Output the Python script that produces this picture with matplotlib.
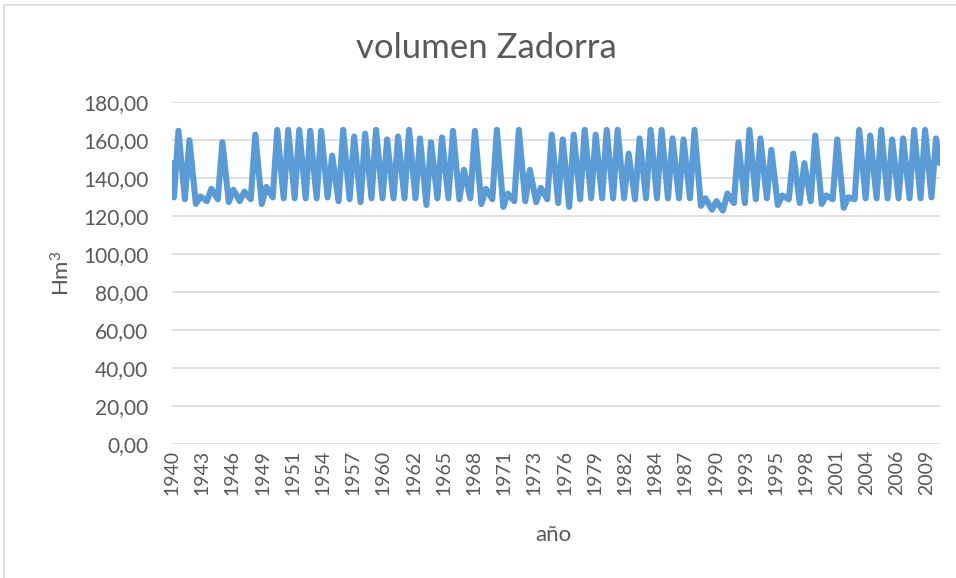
import matplotlib
matplotlib.use("Agg")
import matplotlib.pyplot as plt
import pandas as pd
from matplotlib.patches import Rectangle

plt.rcParams['font.family'] = ['Lato', 'DejaVu Sans']
plt.rcParams['mathtext.default'] = 'regular'

# hydrological years (Oct -> Sep), reservoir volume in Hm3
hydro_years = list(range(1941, 2011))

# autumn minimum (around December, start of each hydrological year)
trough_vol = [
    130, 129, 126.5, 128, 129, 127.5, 128, 129, 126.5, 130,
    129.5, 129.5, 129.5, 129.5, 130, 128, 129, 127.5, 129.5, 129.5,
    129.5, 129.5, 129.5, 126, 129.5, 129.5, 129, 129.5, 126.5, 129,
    125, 128, 128, 127.5, 129, 127, 125, 129, 129.5, 129.5,
    129.5, 129.5, 129, 129.5, 129.5, 129.5, 129.5, 129.5, 125.5, 123.5,
    123, 127, 127, 129, 129.5, 126, 129, 127, 128, 126.5,
    129, 124.5, 129, 129.5, 129.5, 129.5, 129.5, 129.5, 129.5, 130,
]

# spring maximum (around May)
peak_vol = [
    165, 160, 130.5, 134.5, 159, 134, 133, 163, 135.5, 165.5,
    165.5, 165.5, 165, 165, 152, 165.5, 162, 163.5, 165.5, 160.5,
    162, 165.5, 161, 159, 161.5, 165, 144.5, 165, 134.5, 165.5,
    132, 165.5, 144.5, 135, 163, 160.5, 163, 165.5, 163, 165.5,
    165.5, 153, 161, 165.5, 165.5, 161, 160.5, 165.5, 129.5, 128,
    132, 159, 165.5, 161, 155, 131, 153, 148, 162.5, 131,
    160.5, 130, 165.5, 162.5, 165.5, 160.5, 161, 165.5, 165.5, 161,
]

start_vol = 148   # Oct 1940
end_vol = 148     # Sep 2010

tick_labels = ['1940', '1943', '1946', '1949', '1951', '1954', '1957', '1960',
               '1962', '1965', '1968', '1971', '1973', '1976', '1979', '1982',
               '1984', '1987', '1990', '1993', '1995', '1998', '2001', '2004',
               '2006', '2009']
y_ticks = [0, 20, 40, 60, 80, 100, 120, 140, 160, 180]

text_color = '#595959'
grid_color = '#D9D9D9'
line_color = '#5B9BD5'

# build the time series
dates = [pd.Timestamp(1940, 10, 1)]
values = [start_vol]
for y, lo, hi in zip(hydro_years, trough_vol, peak_vol):
    dates.append(pd.Timestamp(y - 1, 12, 1))
    values.append(lo)
    dates.append(pd.Timestamp(y, 5, 1))
    values.append(hi)
dates.append(pd.Timestamp(2010, 9, 1))
values.append(end_vol)

fig = plt.figure(figsize=(9.56, 5.78), dpi=100)
ax = fig.add_axes([0.180, 0.231, 0.803, 0.592])

ax.plot(dates, values, color=line_color, lw=4.4, solid_joinstyle='round',
        solid_capstyle='round', zorder=3)

ax.set_xlim(dates[0], dates[-1])
ax.set_ylim(0, 180)
ax.set_yticks(y_ticks)
ax.set_yticklabels([f"{v:.2f}".replace('.', ',') for v in y_ticks])

tick_dates = pd.date_range('1940-10-01', periods=len(tick_labels), freq='33MS')
ax.set_xticks(tick_dates)
ax.set_xticklabels(tick_labels, rotation=90, va='top', ha='center')

ax.grid(axis='y', color=grid_color, lw=1.2, zorder=0)
ax.grid(axis='x', visible=False)
for s in ax.spines.values():
    s.set_visible(False)
ax.tick_params(axis='both', length=0, labelcolor=text_color)
ax.tick_params(axis='x', labelsize=14, pad=4)
ax.tick_params(axis='y', labelsize=15, pad=17)

ax.set_ylabel('Hm$^3$', fontsize=16, color=text_color, va='center')
ax.yaxis.set_label_coords(-0.143, 0.5)
ax.set_xlabel('año', fontsize=16, color=text_color)
ax.xaxis.set_label_coords(0.496, -0.265)
ax.xaxis.label.set_va('center')

fig.text(0.509, 0.917, 'volumen Zadorra', fontsize=25, color=text_color,
         ha='center', va='center')

fig.patches.append(Rectangle((4 / 956, -0.1), 1.2, 1 - 5 / 578 + 0.1,
                             transform=fig.transFigure, fill=False,
                             ec=grid_color, lw=1.2))

fig.savefig('out.png', dpi=100)
